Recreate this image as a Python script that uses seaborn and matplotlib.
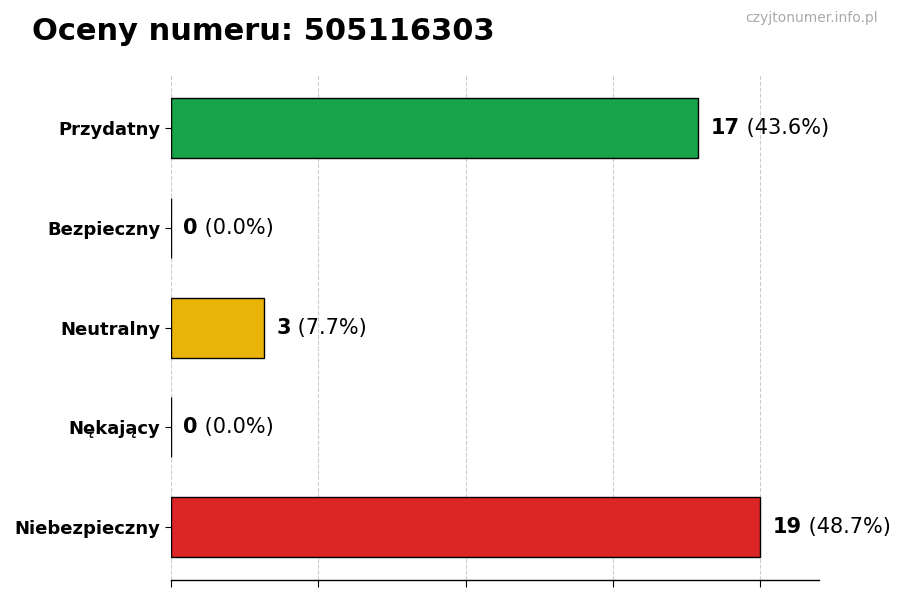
import matplotlib
matplotlib.use("Agg")
import matplotlib.pyplot as plt
import seaborn as sns
import pandas as pd
import numpy as np

categories = ["Przydatny", "Bezpieczny", "Neutralny", "Nękający", "Niebezpieczny"]
counts = [17, 0, 3, 0, 19]
colors = ["#16a34a", "#3b82f6", "#eab308", "#f97316", "#dc2626"]
title = "Oceny numeru: 505116303"
watermark = "czyjtonumer.info.pl"

sns.set_theme(style="white")
plt.rcParams['font.family'] = ['DejaVu Sans']
plt.rcParams['text.color'] = 'black'
plt.rcParams['axes.labelcolor'] = 'black'
plt.rcParams['xtick.color'] = 'black'
plt.rcParams['ytick.color'] = 'black'

df = pd.DataFrame({"cat": categories, "count": counts})
total = sum(counts)

fig = plt.figure(figsize=(9, 6), dpi=100)
ax = fig.add_axes([0.19, 0.033, 0.72, 0.842])

sns.barplot(data=df, y="cat", x="count", hue="cat", palette=colors, orient="h",
            width=0.6, edgecolor="black", linewidth=1, legend=False, ax=ax,
            saturation=1, zorder=3)

mx = max(counts)
ax.set_xlim(0, mx * 1.1)
ax.set_ylim(len(categories) - 0.47, -0.53)
ax.set_xticks(np.linspace(0, mx, 5))
ax.set_xticklabels([])
ax.grid(axis="x", linestyle="--", color="#cccccc", linewidth=0.8, zorder=0)
ax.grid(axis="y", visible=False)
ax.set_xlabel("")
ax.set_ylabel("")
for s in ["top", "right", "left"]:
    ax.spines[s].set_visible(False)
ax.spines["bottom"].set_color("black")
ax.spines["bottom"].set_linewidth(1)
ax.tick_params(axis="x", length=5, width=0.8, color="black", bottom=True)
ax.tick_params(axis="y", length=4, width=0.8, color="black", left=True, labelsize=13)
for lbl in ax.get_yticklabels():
    lbl.set_fontweight("bold")
    lbl.set_color("black")

for i, c in enumerate(counts):
    pct = 100 * c / total if total else 0
    t1 = ax.annotate(f"{c}", xy=(c, i), xytext=(9, 0), textcoords="offset points",
                     va="center", ha="left", fontsize=15, fontweight="bold", color="black")
    ax.annotate(f" ({pct:.1f}%)", xy=(1, 0.5), xycoords=t1, va="center", ha="left",
                fontsize=15, color="black")

fig.text(0.035, 0.948, title, fontsize=22, fontweight="bold", ha="left", va="center",
         color="black")
fig.text(0.975, 0.97, watermark, fontsize=10, color="#aaaaaa", ha="right", va="center")

fig.savefig("out.png", dpi=100)
